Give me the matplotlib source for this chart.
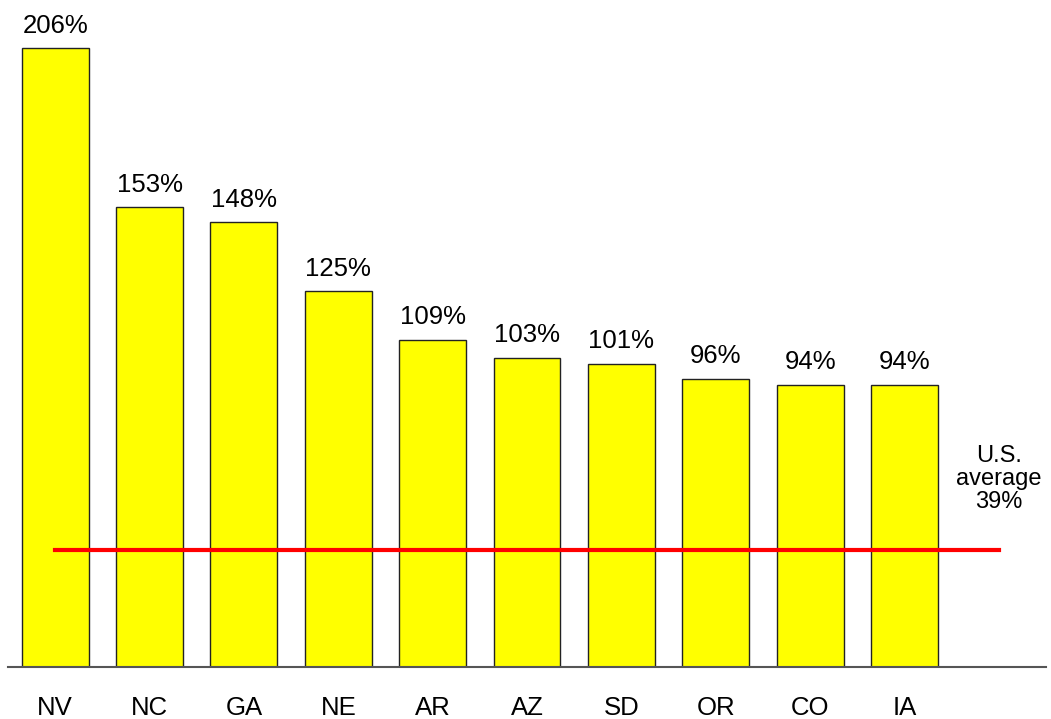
import matplotlib
matplotlib.use("Agg")
from matplotlib import pyplot as plt

states = ["NV", "NC", "GA", "NE", "AR", "AZ", "SD", "OR", "CO", "IA"]
growth = [206, 153, 148, 125, 109, 103, 101, 96, 94, 94]
us_average = 39

plt.rcParams["font.family"] = ["Liberation Sans", "DejaVu Sans"]

fig = plt.figure(figsize=(10.51, 7.19), dpi=100)
ax = fig.add_axes([8 / 1051, 52 / 719, 1038 / 1051, 667 / 719])

x = range(len(states))
ax.bar(x, growth, width=0.71, color="#ffff00", edgecolor="#222222", linewidth=1)

# value labels above the bars
for i, v in enumerate(growth):
    ax.text(i, v + 3.5, f"{v}%", ha="center", va="bottom", fontsize=18.5)

# US average line
ax.plot([0, 10], [us_average, us_average], color="#ff0000", linewidth=3)
ax.text(10.0, 62.5, "U.S.\naverage\n39%", ha="center", va="center", fontsize=17, linespacing=1.05)

ax.set_xlim(-0.5, 10.5)
ax.set_ylim(0, 222)
ax.set_xticks(list(x))
ax.set_xticklabels(states, fontsize=18.5)
ax.tick_params(axis="x", length=0, pad=21)
ax.set_yticks([])
for s in ["top", "right", "left"]:
    ax.spines[s].set_visible(False)
ax.spines["bottom"].set_color("#555555")
ax.spines["bottom"].set_linewidth(1.5)

fig.savefig("out.png", dpi=100)
